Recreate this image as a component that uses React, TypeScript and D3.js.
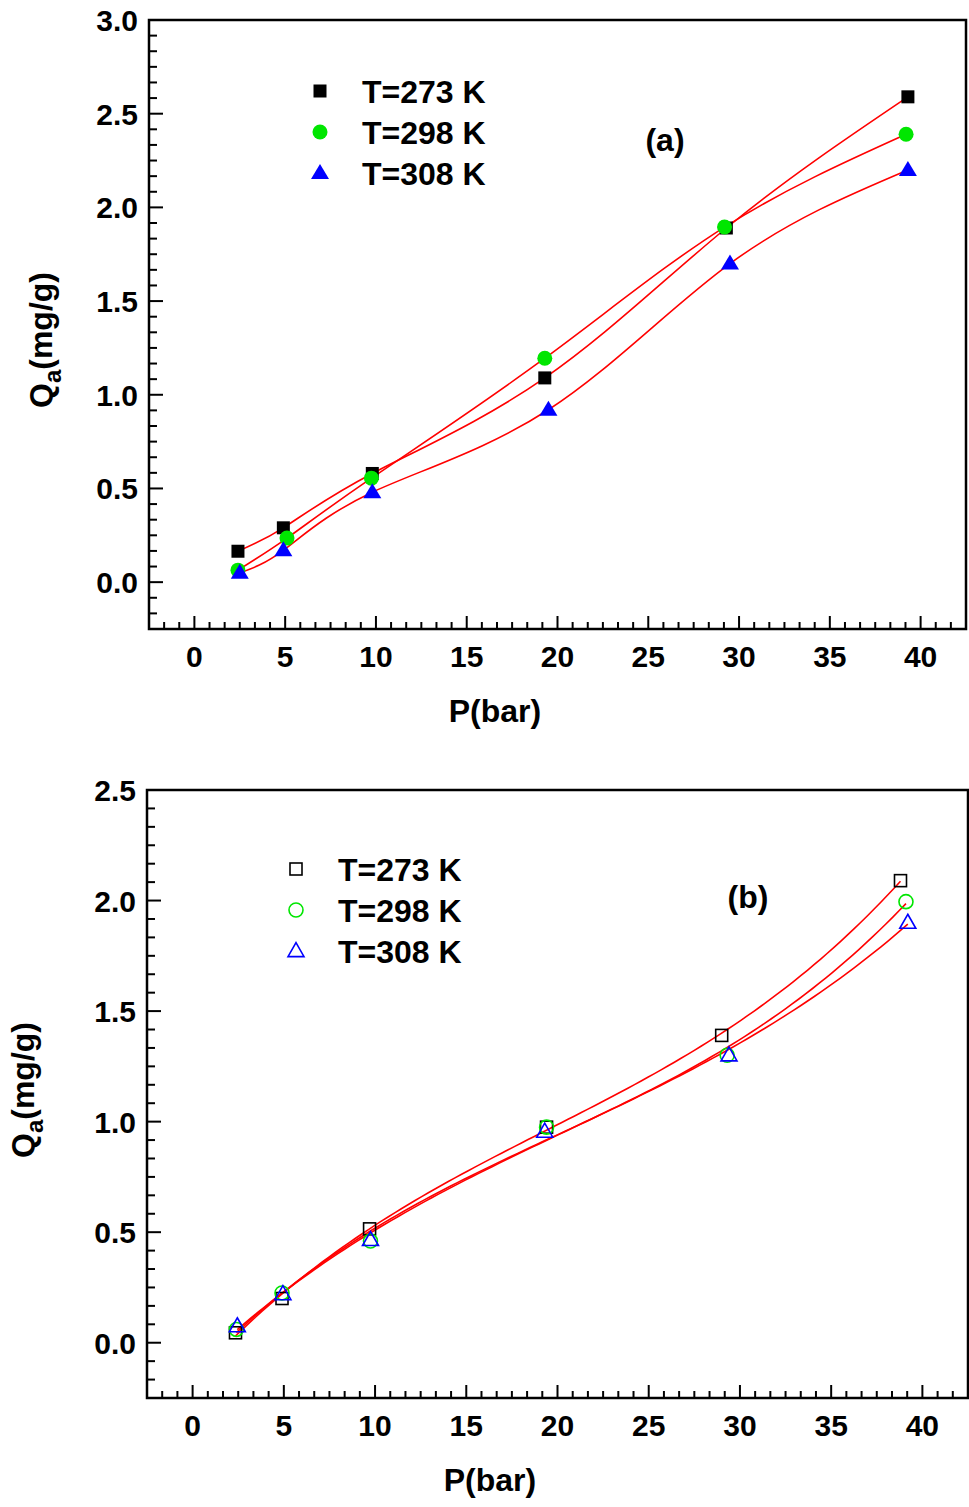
import React from "react";
import * as d3 from "d3";

// pressure (bar) and adsorbed amount (mg/g)
const pA273 = [2.4, 4.9, 9.8, 19.3, 29.3, 39.3];
const qA273 = [0.165, 0.29, 0.58, 1.09, 1.89, 2.59];
const pA298 = [2.4, 5.1, 9.75, 19.3, 29.2, 39.2];
const qA298 = [0.064, 0.235, 0.555, 1.195, 1.895, 2.39];
const pA308 = [2.5, 4.9, 9.8, 19.5, 29.5, 39.3];
const qA308 = [0.05, 0.17, 0.48, 0.92, 1.7, 2.2];

const pB273 = [2.35, 4.9, 9.7, 19.4, 29.0, 38.8];
const qB273 = [0.045, 0.2, 0.515, 0.975, 1.39, 2.09];
const pB298 = [2.4, 4.9, 9.75, 19.4, 29.3, 39.1];
const qB298 = [0.06, 0.225, 0.46, 0.975, 1.3, 1.995];
const pB308 = [2.45, 4.95, 9.75, 19.3, 29.4, 39.2];
const qB308 = [0.075, 0.22, 0.465, 0.955, 1.3, 1.9];

const seriesNames = ["T=273 K", "T=298 K", "T=308 K"];
const seriesColors = ["#000000", "#00e600", "#0000ff"];
const xTicks = [0, 5, 10, 15, 20, 25, 30, 35, 40];
const yTicksA = [0, 0.5, 1, 1.5, 2, 2.5, 3];
const yTicksB = [0, 0.5, 1, 1.5, 2, 2.5];

const FONT = "Liberation Sans, Arial, sans-serif";

// least squares polynomial fit (degree 3)
function polyFit(xs: number[], ys: number[], deg = 3): number[] {
    const n = deg + 1;
    const A: number[][] = [];
    for (let i = 0; i < n; i++) {
        A.push([]);
        for (let j = 0; j < n; j++) A[i].push(d3.sum(xs, x => Math.pow(x, i + j)));
        A[i].push(d3.sum(xs, (x, k) => Math.pow(x, i) * ys[k]));
    }
    for (let c = 0; c < n; c++) {
        let piv = c;
        for (let r = c + 1; r < n; r++) if (Math.abs(A[r][c]) > Math.abs(A[piv][c])) piv = r;
        [A[c], A[piv]] = [A[piv], A[c]];
        for (let r = 0; r < n; r++) {
            if (r === c) continue;
            const f = A[r][c] / A[c][c];
            for (let k = c; k <= n; k++) A[r][k] -= f * A[c][k];
        }
    }
    return A.map((row, i) => row[n] / row[i]);
}

type Series = { p: number[], q: number[] };

type PanelProps = {
    top: number, bottom: number, left: number, right: number,
    yMax: number, yTicks: number[], series: Series[], filled: boolean,
    spline: boolean,
    label: string, labelX: number, labelY: number,
    legendX: number, legendY: number, legendGap: number,
    yTitleX: number, yTitleY: number, xTitleX: number
};

const Marker = ({ kind, x, y, color, filled }: { kind: number, x: number, y: number, color: string, filled: boolean }) => {
    const fill = filled ? color : "none";
    const sw = filled ? 0 : 1.6;
    if (kind === 0) {
        const s = filled ? 13 : 12;
        return <rect x={x - s / 2} y={y - s / 2} width={s} height={s} fill={fill} stroke={color} strokeWidth={sw} />;
    }
    if (kind === 1) {
        return <circle cx={x} cy={y} r={filled ? 7.5 : 7} fill={fill} stroke={color} strokeWidth={sw} />;
    }
    const h = filled ? 15 : 14;
    const w = filled ? 18 : 16;
    return <path d={`M${x},${y - h * 0.6}L${x + w / 2},${y + h * 0.4}L${x - w / 2},${y + h * 0.4}Z`} fill={fill} stroke={color} strokeWidth={sw} />;
};

const Panel = (props: PanelProps) => {
    const { top, bottom, left, right, yMax, yTicks, series, filled } = props;
    const x = d3.scaleLinear().domain([-2.5, 42.5]).range([left, right]);
    const y = d3.scaleLinear().domain([-0.25, yMax]).range([bottom, top]);

    const xMinor = d3.range(0, 60).map(i => -2.5 + i * 5 / 6).filter(v => v > -2.5 && v < 42.5);
    const yMinor = d3.range(0, 80).map(i => -0.25 + i * 0.5 / 6).filter(v => v > -0.25 && v < yMax);

    const fitPath = (s: Series) => {
        if (props.spline) {
            const pts = s.p.map((pv, k) => [pv, s.q[k]] as [number, number]);
            return d3.line().curve(d3.curveNatural).x(d => x(d[0])).y(d => y(d[1]))(pts) || "";
        }
        const c = polyFit(s.p, s.q);
        const lo = d3.min(s.p)!, hi = d3.max(s.p)!;
        const pts = d3.range(0, 101).map(k => {
            const xv = lo + (hi - lo) * k / 100;
            return [xv, c[0] + c[1] * xv + c[2] * xv * xv + c[3] * xv * xv * xv] as [number, number];
        });
        return d3.line().x(d => x(d[0])).y(d => y(d[1]))(pts) || "";
    };

    return (
        <g>
            {/* fits */}
            {series.map((s, i) => (
                <path key={"f" + i} d={fitPath(s)} fill="none" stroke="#ff0000" strokeWidth={1.6} />
            ))}
            {/* points */}
            {series.map((s, i) => s.p.map((pv, k) => (
                <Marker key={`m${i}-${k}`} kind={i} x={x(pv)} y={y(s.q[k])} color={seriesColors[i]} filled={filled} />
            )))}
            {/* frame */}
            <rect x={left} y={top} width={right - left} height={bottom - top} fill="none" stroke="#000" strokeWidth={2.5} />
            {/* ticks */}
            {xMinor.map((v, i) => {
                const major = Math.abs(v / 5 - Math.round(v / 5)) < 1e-6;
                return <line key={"xt" + i} x1={x(v)} x2={x(v)} y1={bottom} y2={bottom - (major ? 13 : 7)} stroke="#000" strokeWidth={2} />;
            })}
            {yMinor.map((v, i) => {
                const major = Math.abs(v / 0.5 - Math.round(v / 0.5)) < 1e-6;
                return <line key={"yt" + i} x1={left} x2={left + (major ? 14 : 8)} y1={y(v)} y2={y(v)} stroke="#000" strokeWidth={2} />;
            })}
            {xTicks.map(v => (
                <text key={"xl" + v} x={x(v)} y={bottom + 38} textAnchor="middle" fontFamily={FONT} fontWeight="bold" fontSize={30}>{v}</text>
            ))}
            {yTicks.map(v => (
                <text key={"yl" + v} x={left - 11} y={y(v) + 11} textAnchor="end" fontFamily={FONT} fontWeight="bold" fontSize={30}>{v.toFixed(1)}</text>
            ))}
            <text x={props.xTitleX} y={bottom + 93} textAnchor="middle" fontFamily={FONT} fontWeight="bold" fontSize={32}>P(bar)</text>
            <text transform={`translate(${props.yTitleX},${props.yTitleY}) rotate(-90)`} textAnchor="middle" fontFamily={FONT} fontWeight="bold" fontSize={32}>
                Q<tspan fontSize={24} dy={9}>a</tspan><tspan dy={-9}>(mg/g)</tspan>
            </text>
            <text x={props.labelX} y={props.labelY} textAnchor="middle" fontFamily={FONT} fontWeight="bold" fontSize={32}>{props.label}</text>
            {/* legend */}
            {seriesNames.map((name, i) => (
                <g key={"lg" + i}>
                    <Marker kind={i} x={props.legendX} y={props.legendY + i * props.legendGap} color={seriesColors[i]} filled={filled} />
                    <text x={props.legendX + 42} y={props.legendY + i * props.legendGap + 12} fontFamily={FONT} fontWeight="bold" fontSize={32}>{name}</text>
                </g>
            ))}
        </g>
    );
};

export default function App() {
    return (
        <svg width={969} height={1507} style={{ position: "absolute", left: 0, top: 0, background: "#fff" }}>
            <Panel top={20} bottom={629} left={149} right={966} yMax={3.0} yTicks={yTicksA}
                series={[{ p: pA273, q: qA273 }, { p: pA298, q: qA298 }, { p: pA308, q: qA308 }]}
                filled={true} spline={true} label="(a)" labelX={665} labelY={151}
                legendX={320} legendY={91} legendGap={41} yTitleX={52} yTitleY={340} xTitleX={495} />
            <Panel top={790} bottom={1398} left={147} right={968} yMax={2.5} yTicks={yTicksB}
                series={[{ p: pB273, q: qB273 }, { p: pB298, q: qB298 }, { p: pB308, q: qB308 }]}
                filled={false} spline={false} label="(b)" labelX={748} labelY={908}
                legendX={296} legendY={869} legendGap={41} yTitleX={34} yTitleY={1090} xTitleX={490} />
        </svg>
    );
}
